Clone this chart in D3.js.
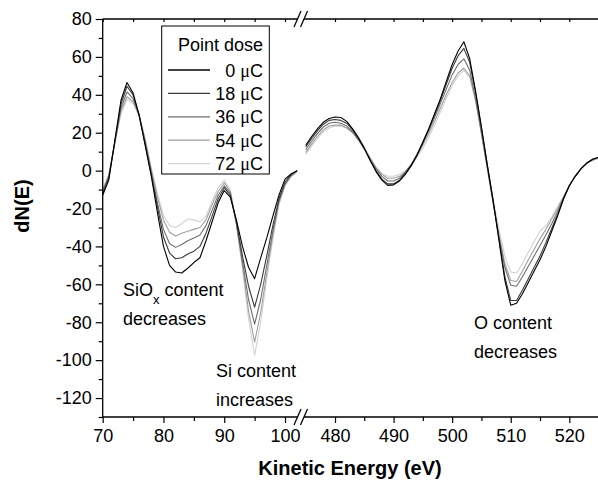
<!DOCTYPE html>
<html>
<head>
<meta charset="utf-8">
<script src="https://cdn.jsdelivr.net/npm/d3@7"></script>
<style>
  body { margin: 0; background: #fff; }
  text { font-family: "Liberation Sans", Arial, sans-serif; fill: #000; }
</style>
</head>
<body>
<div id="chart"></div>
<script>
const doses = ['0', '18', '36', '54', '72'];
const colors = ['#000000', '#3a3a3a', '#6e6e6e', '#a0a0a0', '#d2d2d2'];

// Si LVV region
const leftEnergy = [70, 71, 72, 73, 74, 75, 76, 77, 78, 79, 80, 81, 82, 83, 84, 85, 86,
    87, 88, 89, 90, 91, 92, 93, 94, 95, 96, 97, 98, 99, 100, 101, 102];
const left0 = [-13, -5, 16, 37, 46.5, 41, 29, 13, -3, -22, -40, -50, -53.5, -54, -51.5, -48.5, -46,
    -37, -27, -17, -10.5, -14, -26, -40, -51, -57, -46, -35.5, -24, -13, -4.5, -1.8, 0];
const left18 = [-12, -4, 15.5, 35, 44.5, 40, 29.5, 14, -2, -19, -35, -43.5, -46.5, -46, -44, -42.5, -40,
    -33, -24, -15, -9, -13, -27, -45, -61, -72, -60, -45, -29, -15, -6, -2, 0];
const left36 = [-11, -3, 15, 33, 41.5, 38, 29, 15, -1, -17, -31, -38.5, -40.5, -39, -37, -35.5, -34,
    -29, -21, -13, -8, -12, -28, -48, -68, -81, -68, -50, -32, -16, -7, -2.5, 0];
const left54 = [-10.5, -2.5, 14.5, 31.5, 39, 36.5, 29, 16, 0.5, -14, -26, -32.5, -34.5, -33, -32, -31, -30,
    -26, -18, -11, -6.5, -11, -28, -50, -74, -90.5, -75, -54, -34, -17, -7.5, -3, -0.5];
const left72 = [-9.5, -2, 14, 30, 37.5, 35.5, 29, 17, 1.5, -12, -23.5, -29, -30, -28, -25.5, -26, -27,
    -24, -16, -9, -5, -10, -28, -52, -78, -97.5, -80, -57, -36, -18, -8, -3, -0.5];

// O KLL region
const rightEnergy = [475, 476, 477, 478, 479, 480, 481, 482, 483, 484, 485, 486, 487, 488, 489, 490,
    491, 492, 493, 494, 495, 496, 497, 498, 499, 500, 501, 502, 503, 504, 505, 506, 507, 508, 509, 510,
    511, 512, 513, 514, 515, 516, 517, 518, 519, 520, 521, 522, 523, 524, 525];
const right0 = [13.4, 18, 22, 25.5, 27.5, 28.3, 28, 26, 22, 17.5, 12, 5.5, -0.5, -5, -7.8, -7.5,
    -5.5, -2, 2.5, 8, 15, 22, 30, 38, 47, 56, 63, 68, 59, 42, 23, 3, -16, -37, -58, -71,
    -70, -65, -59, -53, -47, -40, -32, -24, -15, -8, -3, 1, 4, 6, 7];
const right18 = [12.5, 17, 21, 24.5, 26.5, 27, 26.5, 25, 21.5, 17, 11.5, 5.5, 0, -4.5, -7, -7,
    -5, -1.5, 3, 8.5, 15, 22, 29.5, 37, 45.5, 54, 60.5, 64.5, 57, 41, 22.5, 3, -16, -36, -56, -68.5,
    -68.5, -63, -57, -51, -45, -38, -30.5, -23, -15, -8, -3, 1, 4, 6, 7];
const right36 = [11, 15.5, 19.5, 23, 25, 25.5, 25, 23.5, 20.5, 16.5, 11.5, 6, 1, -3, -5.5, -5.5,
    -4, -1, 3, 8.5, 14.5, 21, 28, 35.5, 43, 50.5, 56, 59, 53, 38, 20, 1.5, -17, -35, -51, -60.5,
    -61, -56, -50.5, -45, -39.5, -34, -28, -21.5, -14.5, -8, -3, 1, 4, 6, 7];
const right54 = [9.5, 14, 18, 21.5, 23.5, 24, 24, 22.5, 20, 16, 11.5, 6.5, 1.5, -2, -4, -4,
    -3, -0.5, 3, 8, 13.5, 19.5, 26, 33, 40, 46.5, 51.5, 54, 50, 37, 19.5, 1, -17, -34, -49, -58,
    -58.5, -53, -47, -41.5, -36, -31, -25.5, -20, -14, -8, -3, 1, 4, 5.5, 6.5];
const right72 = [8.6, 13, 17, 20.5, 22.5, 23.5, 23.5, 22.5, 20, 16.5, 12, 7, 2, -1.5, -3, -3,
    -2, 0, 3, 7, 12, 17.5, 24, 31, 38, 45, 50, 53, 49, 37, 20, 2, -15, -31, -45, -53.5,
    -54, -49, -43, -37.5, -32, -29, -24.5, -19, -13.5, -8, -3, 1, 4, 5.5, 6.5];

const leftSeries = [left0, left18, left36, left54, left72];
const rightSeries = [right0, right18, right36, right54, right72];

const yMajor = [-120, -100, -80, -60, -40, -20, 0, 20, 40, 60, 80];
const yMinor = [-130, -110, -90, -70, -50, -30, -10, 10, 30, 50, 70];
const leftMajor = [70, 80, 90, 100];
const leftMinor = [75, 85, 95];
const rightMajor = [480, 490, 500, 510, 520];
const rightMinor = [485, 495, 505, 515];

const width = 598, height = 483;
const svg = d3.select('#chart').append('svg')
    .attr('width', width)
    .attr('height', height);

const xLeft = d3.scaleLinear().domain([70, 100]).range([102.7, 285]);
const xRight = d3.scaleLinear().domain([480, 520]).range([335, 569.3]);
const y = d3.scaleLinear().domain([-130, 80]).range([417, 19]);
const plotTop = y(80), plotBottom = y(-130);
const breakL = 297.5, breakR = 304;

// curves, lightest first so black ends on top
function drawPanel(energy, series, x) {
    const line = d3.line().x((d, i) => x(energy[i])).y(d => y(d));
    svg.append('g')
        .selectAll('path')
        .data(series.map((s, i) => ({ values: s, color: colors[i] })).reverse())
        .enter().append('path')
        .attr('d', d => line(d.values))
        .attr('fill', 'none')
        .attr('stroke', d => d.color)
        .attr('stroke-width', 1.1)
        .attr('stroke-linejoin', 'round');
}
drawPanel(leftEnergy, leftSeries, xLeft);
drawPanel(rightEnergy, rightSeries, xRight);

// axes
function tickAxis(axis, tx, ty) {
    const g = svg.append('g').attr('transform', `translate(${tx},${ty})`).call(axis);
    g.select('.domain').remove();
    g.selectAll('line').attr('stroke', '#000').attr('stroke-width', 1.2);
    g.selectAll('text').style('font-size', '18px').attr('font-family', '"Liberation Sans", Arial, sans-serif');
    return g;
}
tickAxis(d3.axisLeft(y).tickValues(yMajor).tickSize(7).tickPadding(4).tickFormat(d => String(d)), xLeft(70), 0);
tickAxis(d3.axisLeft(y).tickValues(yMinor).tickSize(4).tickFormat(''), xLeft(70), 0);
tickAxis(d3.axisBottom(xLeft).tickValues(leftMajor).tickSize(6).tickPadding(6), 0, plotBottom);
tickAxis(d3.axisBottom(xLeft).tickValues(leftMinor).tickSize(4).tickFormat(''), 0, plotBottom);
tickAxis(d3.axisBottom(xRight).tickValues(rightMajor).tickSize(6).tickPadding(6), 0, plotBottom);
tickAxis(d3.axisBottom(xRight).tickValues(rightMinor).tickSize(4).tickFormat(''), 0, plotBottom);
tickAxis(d3.axisBottom(xLeft).tickValues(leftMajor.concat(leftMinor)).tickSize(3).tickFormat(''), 0, plotTop);
tickAxis(d3.axisBottom(xRight).tickValues(rightMajor.concat(rightMinor)).tickSize(3).tickFormat(''), 0, plotTop);

const frame = svg.append('g').attr('stroke', '#000').attr('stroke-width', 1.3);
frame.append('line').attr('x1', xLeft(70)).attr('x2', xLeft(70)).attr('y1', plotTop).attr('y2', plotBottom);
[plotTop, plotBottom].forEach(yy => {
    frame.append('line').attr('x1', xLeft(70)).attr('x2', breakL).attr('y1', yy).attr('y2', yy);
    frame.append('line').attr('x1', breakR).attr('x2', width).attr('y1', yy).attr('y2', yy);
    [breakL, breakR].forEach(bx => {
        frame.append('line')
            .attr('x1', bx - 3.5).attr('y1', yy + 8)
            .attr('x2', bx + 3.5).attr('y2', yy - 8);
    });
});

// axis titles
svg.append('text')
    .attr('x', 350).attr('y', 475)
    .attr('text-anchor', 'middle')
    .style('font-size', '20px').style('font-weight', 'bold')
    .text('Kinetic Energy (eV)');
svg.append('text')
    .attr('transform', 'translate(29,206) rotate(-90)')
    .attr('text-anchor', 'middle')
    .style('font-size', '20px').style('font-weight', 'bold')
    .text('dN(E)');

// legend
const legend = svg.append('g');
legend.append('rect')
    .attr('x', 161.7).attr('y', 26).attr('width', 107.6).attr('height', 148)
    .attr('fill', '#fff').attr('stroke', '#000').attr('stroke-width', 1);
legend.append('text')
    .attr('x', 263).attr('y', 51)
    .attr('text-anchor', 'end')
    .style('font-size', '18px')
    .text('Point dose');
doses.forEach((d, i) => {
    const cy = 70 + i * 23.4;
    legend.append('line')
        .attr('x1', 168).attr('x2', 210).attr('y1', cy).attr('y2', cy)
        .attr('stroke', colors[i]).attr('stroke-width', 1.3);
    const t = legend.append('text')
        .attr('x', 263).attr('y', cy + 6.5)
        .attr('text-anchor', 'end')
        .style('font-size', '18px');
    t.append('tspan').text(d + ' ');
    t.append('tspan').attr('font-family', '"Liberation Serif", "Times New Roman", serif').text('\u03bc');
    t.append('tspan').text('C');
});

// annotations
function note(x, yy, lines) {
    lines.forEach((l, i) => {
        const t = svg.append('text')
            .attr('x', x).attr('y', yy + i * 29)
            .style('font-size', '18px');
        l.forEach(part => {
            const s = t.append('tspan').text(part.t);
            if (part.sub) s.attr('baseline-shift', 'sub').style('font-size', '13px');
        });
    });
}
note(123, 296, [[{ t: 'SiO' }, { t: 'x', sub: true }, { t: ' content' }], [{ t: 'decreases' }]]);
note(216, 377, [[{ t: 'Si content' }], [{ t: 'increases' }]]);
note(474, 329, [[{ t: 'O content' }], [{ t: 'decreases' }]]);
</script>
</body>
</html>
